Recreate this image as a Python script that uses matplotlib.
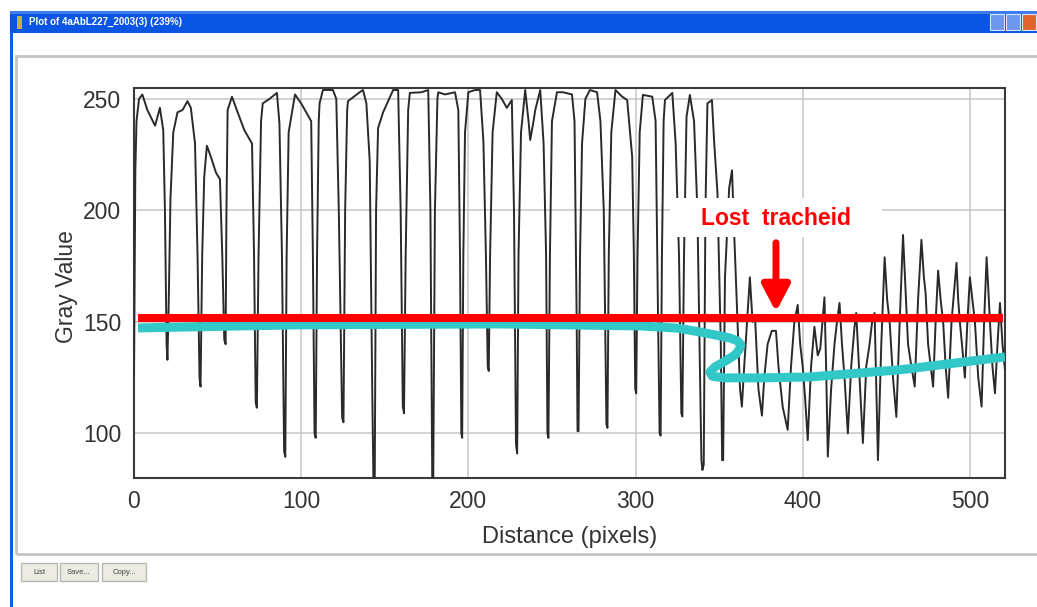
import matplotlib
matplotlib.use("Agg")
import matplotlib.pyplot as plt
from matplotlib.patches import Rectangle, FancyBboxPatch

plt.rcParams['font.family'] = ['Liberation Sans', 'DejaVu Sans']

# gray value profile, vertices (distance in pixels, gray value)
profile_x = [0, 0.8, 1.5, 3, 5, 8, 12.6, 15.5, 17.5, 18.5, 19.5, 20, 20.8, 21.8, 23.5,
             26, 29, 32, 34, 36.5, 38, 39.2, 39.8, 40.8, 42, 43.6, 46, 49, 51.4,
             52.8, 54, 54.8, 55.3, 56, 58.6, 62, 66, 70.6, 71.8, 72.8, 73.5, 74.5,
             76, 77, 81, 85.5, 87, 88.5, 89.8, 90.5, 91.3, 92.5, 96.3, 100, 103,
             106, 107, 108, 108.7, 109.5, 110.5, 111, 113, 119, 121, 122.5, 124.5,
             125.3, 126.3, 127.5, 128, 135, 137, 139, 141, 142.5, 143.2, 144,
             144.8, 146, 149, 155, 158, 159.5, 160.8, 161.5, 162.5, 164, 165, 172,
             176, 177.3, 178.4, 179, 180, 181.5, 182, 186, 192, 194, 195, 195.8,
             196.3, 197, 198, 200, 204, 207, 209, 210.5, 211.6, 212.2, 213, 214.5,
             217, 220, 223, 226, 227.3, 228.5, 229.2, 230, 231.5, 234, 236, 237,
             239, 240, 243, 245, 246.5, 247.3, 247.9, 248.8, 250, 253, 256.6, 262,
             263.5, 264.8, 265.3, 265.9, 266.8, 268, 270, 272.7, 277, 279, 281,
             282.6, 283.2, 284, 285.5, 288, 292, 295, 298, 299, 299.8, 300.4,
             301.2, 302.5, 304.4, 310, 312, 313.5, 314.4, 315, 315.8, 316.8,
             317.6, 322, 324, 326, 327.4, 328, 329, 330.5, 332.5, 335, 337, 339.4,
             340, 340.8, 341.8, 343, 345.7, 347, 349, 351, 351.8, 352.4, 353.5,
             356, 357.7, 359, 360, 362.5, 363.6, 365, 368.4, 370, 371.5, 373.5,
             375.6, 377, 379, 381.5, 384, 385.5, 388, 391, 393, 395, 397, 398.5,
             400, 401.5, 403, 405, 407, 409, 410.5, 413, 414, 415, 417, 419,
             420.5, 422, 423.5, 425, 427, 429, 431, 432, 434, 436, 438, 440,
             441.5, 443, 444, 445, 447, 449, 450.5, 452, 454, 456, 458, 460,
             461.5, 463, 465, 467, 469, 471, 472.5, 473.5, 475, 478, 479.5, 481,
             482.5, 484, 485.5, 487, 489, 492, 493, 494, 495.5, 497, 498.5, 500,
             501.5, 503, 505, 507, 508.5, 510, 511, 512, 513.5, 515, 516.5, 518,
             519.5, 521]
profile_y = [126, 218, 240, 250, 252, 245, 238, 246, 236, 200, 140, 133, 160, 205, 235,
             244, 245, 249, 246, 230, 180, 125, 121, 180, 215, 229, 224, 217, 214,
             180, 142, 140, 200, 245, 251, 244, 236, 230, 180, 114, 111.5, 180,
             240, 248, 250, 252.7, 239, 180, 92, 89.5, 180, 235, 252, 248, 244,
             240, 180, 100, 98, 180, 240, 248, 254, 254, 250, 200, 107,
             105, 200, 245, 249, 253, 254, 248, 222, 120, 80, 80,
             200, 237, 244, 254, 254, 200, 112, 109, 180, 245, 252.7, 253,
             254, 200, 80, 80, 200, 250, 253, 252, 253, 245, 180, 100,
             98, 180, 235, 253, 254, 254, 231, 180, 130, 128, 180, 235,
             253, 250, 246, 249.5, 200, 95, 91, 180, 235, 254, 240, 231.6,
             240, 245, 254, 230, 180, 100, 98, 180, 240, 253, 253, 252,
             240, 150, 101, 101, 180, 230, 250, 254, 253, 240, 200,
             104, 102.5, 180, 235, 254, 251, 249.5, 224, 180, 120, 118,
             180, 235, 251.8, 251, 240, 150, 100, 99, 180, 240,
             249.5, 252.7, 230, 180, 109, 107.6, 180, 242, 251.8, 240, 200, 88,
             83.6, 86, 200, 248, 249.5, 231, 208, 140, 88, 88, 170,
             210, 218, 190, 170, 120, 112, 130, 170, 150, 152, 120,
             108, 125, 140, 146, 146, 130, 112, 101.6, 130, 150, 157.6, 140,
             130, 115, 97, 130, 147.8, 135, 138, 161, 130, 89.6, 120, 140,
             150, 158.5, 140, 125, 100, 130, 148, 154, 125, 95.7, 130, 140,
             150, 154, 120, 88, 140, 179, 160, 150, 125, 107.4, 150, 189,
             165, 140, 130, 121, 160, 186.8, 170, 163, 140, 121, 150, 173,
             160, 150, 130, 116, 150, 176.5, 160, 150, 138, 125, 150, 170,
             160, 150, 125, 112, 150, 179, 165, 150, 130, 118, 140, 158.5,
             140, 128.5]

# hand-drawn markings on top of the profile
threshold_x = [2.4, 519.7]
threshold_y = [151.8, 151.8]
trend_x = [2.4, 99.3, 219, 302.6, 325, 338.5, 350, 356.5, 361, 363, 362, 359.5, 354,
           347.5, 344.5, 346, 353.5, 374.4, 404, 458, 521]
trend_y = [147.3, 148.7, 149.1, 148.2, 147.2, 145.5, 143.8, 142.8, 141.5, 139.7, 137.5,
           135.2, 132.6, 129.8, 127.5, 125.6, 124.9, 124.9, 125.3, 128.5, 134.3]
lost_x = 384
lost_tip = 154.5
lost_tail = 185.5
lost_label = "Lost  tracheid"

x_ticks = [0, 100, 200, 300, 400, 500]
y_ticks = [100, 150, 200, 250]

W, H = 1037, 607
fig = plt.figure(figsize=(W / 100, H / 100), dpi=100)
fig.patch.set_facecolor('white')


def box(x0, y0, x1, y1, **kw):
    # rectangle given in screen pixels (origin top-left)
    r = Rectangle((x0 / W, 1 - y1 / H), (x1 - x0) / W, (y1 - y0) / H,
                  transform=fig.transFigure, **kw)
    fig.add_artist(r)
    return r


# window chrome
box(10, 11, W, 33, facecolor='#0a55e4', edgecolor='none')
box(10, 11, W, 14, facecolor='#3d7bf0', edgecolor='none')
box(10, 33, 13, H, facecolor='#1a5ae0', edgecolor='none')
box(17, 16, 22, 29, facecolor='#c8b040', edgecolor='none')
fig.text(29 / W, 1 - 22 / H, "Plot of 4aAbL227_2003(3) (239%)", color='white',
         fontsize=7, fontweight='bold', va='center', ha='left')
for bx, col in [(990, '#6e98ee'), (1006, '#6e98ee'), (1022, '#e0622e')]:
    box(bx, 14, bx + 14, 30, facecolor=col, edgecolor='#d8e4fa', lw=0.8)
box(16, 56, W + 5, 554, facecolor='none', edgecolor='#c4c4c4', lw=2)

for x0, x1, name in [(21, 57, "List"), (60, 98, "Save..."), (102, 146, "Copy...")]:
    fig.add_artist(FancyBboxPatch((x0 / W, 1 - 581 / H), (x1 - x0) / W, 18 / H,
                                  boxstyle='square,pad=0', transform=fig.transFigure,
                                  facecolor='#ecebe3', edgecolor='#b8b8b0', lw=1))
    fig.text((x0 + x1) / 2 / W, 1 - 572 / H, name, fontsize=5.5, ha='center',
             va='center', color='#444444')

# plot area
ax = fig.add_axes([134 / W, 1 - 478 / H, 871 / W, 390 / H])
ax.plot(profile_x, profile_y, color='#2a2a2a', lw=1.4, zorder=3)
ax.set_xlim(0, 521)
ax.set_ylim(80.0, 254.9)
ax.set_xticks(x_ticks)
ax.set_yticks(y_ticks)
ax.tick_params(length=0, labelsize=16.5, pad=9, colors='#333333')
ax.grid(True, color='#c6c6c6', lw=1.1, zorder=0)
for s in ax.spines.values():
    s.set_color('#3a3a3a')
    s.set_linewidth(1.5)
ax.set_xlabel("Distance (pixels)", fontsize=17, color='#333333')
ax.set_ylabel("Gray Value", fontsize=16.5, color='#333333')
ax.xaxis.set_label_coords(0.5006, -0.151)
ax.xaxis.label.set_va('center')
ax.yaxis.set_label_coords(-0.078, 0.492)
ax.yaxis.label.set_va('center')

ax.plot(trend_x, trend_y, color='#33c8c8', lw=6.5, solid_capstyle='butt',
        solid_joinstyle='round', zorder=5)
ax.plot(threshold_x, threshold_y, color='#ff0000', lw=5.8, solid_capstyle='butt',
        zorder=6)

ax.add_patch(Rectangle((320.6, 188.1), 126.8, 17.5, facecolor='white',
                       edgecolor='none', zorder=7))
ax.text(lost_x, 196.2, lost_label, color='#ff0000', fontsize=16.5, fontweight='bold',
        ha='center', va='center', zorder=8)
ax.annotate('', xy=(lost_x, lost_tip), xytext=(lost_x, lost_tail),
            arrowprops=dict(arrowstyle='-|>,head_width=0.42,head_length=0.8',
                            color='#ff0000', lw=5, mutation_scale=20,
                            shrinkA=0, shrinkB=0),
            zorder=8)

fig.savefig('out.png', dpi=100, facecolor='white')
